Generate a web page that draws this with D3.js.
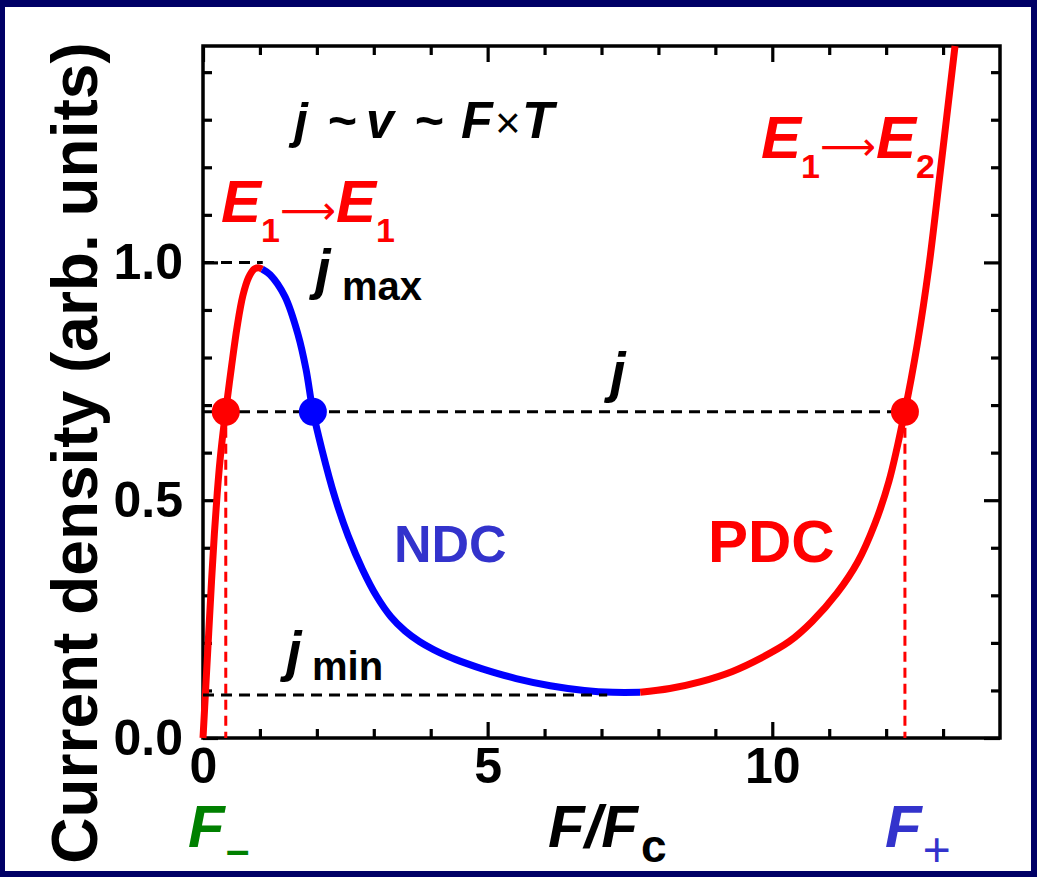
<!DOCTYPE html>
<html><head><meta charset="utf-8">
<script src="https://cdn.jsdelivr.net/npm/d3@7"></script>
<style>html,body{margin:0;padding:0;background:#000066;}svg{display:block;}</style>
</head><body>
<svg id="chart" width="1037" height="877"></svg>
<script>
// ---- data ----
const xDomain = [0, 14];
const yDomain = [0, 1.455];
const xMajorTicks = [0, 5, 10];
const xMinorTicks = [1, 2, 3, 4, 6, 7, 8, 9, 11, 12, 13];
const yMajorTicks = [0, 0.5, 1.0];
const yMinorTicks = [0.1, 0.2, 0.3, 0.4, 0.6, 0.7, 0.8, 0.9, 1.1, 1.2, 1.3, 1.4];

// ohmic branch (red, E1->E1)
const ohmicF = [0, 0.05, 0.10, 0.15, 0.20, 0.25, 0.30, 0.35, 0.40, 0.50, 0.60, 0.70, 0.80, 0.90, 0.97, 1.04];
const ohmicJ = [0, 0.11, 0.22, 0.33, 0.43, 0.515, 0.585, 0.64, 0.688, 0.78, 0.865, 0.93, 0.968, 0.986, 0.989, 0.986];
// NDC branch (blue)
const ndcF = [1.04, 1.18, 1.44, 1.67, 1.81, 1.93, 2.09, 2.32, 2.55, 2.8, 3.05, 3.3, 3.55, 3.8, 4.05, 4.3, 4.6, 4.92, 5.5, 6.1, 6.7, 7.2, 7.68];
const ndcJ = [0.986, 0.974, 0.928, 0.848, 0.775, 0.688, 0.606, 0.505, 0.425, 0.355, 0.298, 0.255, 0.225, 0.203, 0.186, 0.172, 0.158, 0.145, 0.125, 0.11, 0.10, 0.096, 0.096];
// PDC branch (red, E1->E2)
const pdcF = [7.68, 8.2, 8.73, 9.3, 9.8, 10.3, 10.7, 11.14, 11.5, 11.8, 12.05, 12.33, 12.55, 12.75, 12.95, 13.21];
const pdcJ = [0.096, 0.104, 0.118, 0.14, 0.168, 0.203, 0.245, 0.305, 0.37, 0.45, 0.54, 0.688, 0.83, 0.99, 1.19, 1.455];

// operating points at current j
const jLevel = 0.686;
const pointF = [0.40, 1.93, 12.33];
const pointColor = ["#ff0000", "#0000ff", "#ff0000"];
const jMax = 1.0, jMaxEndF = 1.05;
const jMin = 0.0905, jMinEndF = 7.1;

// ---- drawing ----
const W = 1037, H = 877;
const svg = d3.select("#chart");
const FONT = "'Liberation Sans', Arial, Helvetica, sans-serif";
svg.append("rect").attr("x", 0).attr("y", 0).attr("width", W).attr("height", H).attr("fill", "#000066");
svg.append("rect").attr("x", 5).attr("y", 7).attr("width", W - 11).attr("height", H - 13).attr("fill", "#ffffff");

const pLeft = 203, pRight = 1000, pTop = 46, pBottom = 738;
const x = d3.scaleLinear().domain(xDomain).range([pLeft, pRight]);
const y = d3.scaleLinear().domain(yDomain).range([pBottom, pTop]);

const axes = svg.append("g");
function styleAxis(g) {
  g.select(".domain").remove();
  g.selectAll(".tick line").attr("stroke", "#000").attr("stroke-width", 3.2);
  g.selectAll("text").attr("font-family", FONT).attr("font-weight", "bold").attr("font-size", 50).attr("fill", "#000");
}
// bottom
axes.append("g").attr("transform", `translate(0,${pBottom})`)
  .call(d3.axisBottom(x).tickValues(xMajorTicks).tickSize(-16).tickPadding(9).tickFormat(d3.format("d"))).call(styleAxis);
axes.append("g").attr("transform", `translate(0,${pBottom})`)
  .call(d3.axisBottom(x).tickValues(xMinorTicks).tickSize(-9).tickFormat("")).call(styleAxis);
// top
axes.append("g").attr("transform", `translate(0,${pTop})`)
  .call(d3.axisTop(x).tickValues(xMajorTicks).tickSize(-16).tickFormat("")).call(styleAxis);
axes.append("g").attr("transform", `translate(0,${pTop})`)
  .call(d3.axisTop(x).tickValues(xMinorTicks).tickSize(-9).tickFormat("")).call(styleAxis);
// left
axes.append("g").attr("transform", `translate(${pLeft},0)`)
  .call(d3.axisLeft(y).tickValues(yMajorTicks).tickSize(-15).tickPadding(20).tickFormat(d3.format(".1f"))).call(styleAxis);
axes.append("g").attr("transform", `translate(${pLeft},0)`)
  .call(d3.axisLeft(y).tickValues(yMinorTicks).tickSize(-9).tickFormat("")).call(styleAxis);
// right
axes.append("g").attr("transform", `translate(${pRight},0)`)
  .call(d3.axisRight(y).tickValues(yMajorTicks).tickSize(-16).tickFormat("")).call(styleAxis);
axes.append("g").attr("transform", `translate(${pRight},0)`)
  .call(d3.axisRight(y).tickValues(yMinorTicks).tickSize(-9).tickFormat("")).call(styleAxis);
// frame
svg.append("rect").attr("x", pLeft).attr("y", pTop).attr("width", pRight - pLeft).attr("height", pBottom - pTop)
  .attr("fill", "none").attr("stroke", "#000").attr("stroke-width", 3.5);

// dashed guides (behind curve)
const dash = "11,7";
svg.append("line").attr("x1", x(0)).attr("x2", x(jMaxEndF)).attr("y1", y(jMax)).attr("y2", y(jMax))
  .attr("stroke", "#000").attr("stroke-width", 3).attr("stroke-dasharray", dash);
svg.append("line").attr("x1", x(0)).attr("x2", x(pointF[2])).attr("y1", y(jLevel)).attr("y2", y(jLevel))
  .attr("stroke", "#000").attr("stroke-width", 3).attr("stroke-dasharray", dash);
[pointF[0], pointF[2]].forEach(f => {
  svg.append("line").attr("x1", x(f)).attr("x2", x(f)).attr("y1", y(jLevel)).attr("y2", y(0))
    .attr("stroke", "#ff0000").attr("stroke-width", 3).attr("stroke-dasharray", "10,6");
});

// curve
const line = d3.line().x(d => x(d[0])).y(d => y(d[1])).curve(d3.curveCatmullRom.alpha(0.5));
const segs = [[ohmicF, ohmicJ, "#ff0000"], [ndcF, ndcJ, "#0000ff"], [pdcF, pdcJ, "#ff0000"]];
segs.forEach(([F, J, c]) => {
  svg.append("path").datum(F.map((f, i) => [f, J[i]])).attr("d", line)
    .attr("fill", "none").attr("stroke", c).attr("stroke-width", 7);
});

// jmin dashed (over curve)
svg.append("line").attr("x1", x(0)).attr("x2", x(jMinEndF)).attr("y1", y(jMin)).attr("y2", y(jMin))
  .attr("stroke", "#000").attr("stroke-width", 3).attr("stroke-dasharray", dash);

// points
svg.selectAll("circle.pt").data(pointF).join("circle").attr("class", "pt")
  .attr("cx", d => x(d)).attr("cy", y(jLevel)).attr("r", 14).attr("fill", (d, i) => pointColor[i]);

// ---- text ----
// a label made of pieces: one <text>, one <tspan> per piece
function label(parts, fill) {
  const t = svg.append("text").attr("font-family", FONT).attr("fill", fill || "#000");
  parts.forEach(p => {
    t.append("tspan").attr("x", p.x).attr("y", p.y).attr("font-size", p.size)
      .attr("font-weight", p.weight || "bold").attr("font-style", p.italic ? "italic" : "normal")
      .attr("font-family", p.family || null)
      .text(p.t);
  });
  return t;
}
// pieces laid side by side, each starting where the previous one ends
function flowLabel(x0, parts, fill) {
  const t = svg.append("text").attr("font-family", FONT).attr("fill", fill || "#000");
  let cx = x0;
  parts.forEach(p => {
    const s = t.append("tspan").attr("x", cx).attr("y", p.y).attr("font-size", p.size)
      .attr("font-weight", p.weight || "bold").attr("font-style", p.italic ? "italic" : "normal")
      .attr("font-family", p.family || null).text(p.t);
    cx += s.node().getComputedTextLength() + (p.gap || 0);
  });
  return t;
}
// y-axis title
svg.append("text").attr("font-family", FONT).attr("font-weight", "bold").attr("font-size", 64)
  .attr("text-anchor", "middle").attr("transform", "translate(97,453) rotate(-90)")
  .text("Current density (arb. units)");
// x-axis title F/Fc
label([{t: "F/F", x: 548, y: 847, size: 60, italic: true}, {t: "c", x: 641, y: 862, size: 46}]);
// F- and F+
label([{t: "F", x: 188, y: 847, size: 60, italic: true}, {t: "\u2013", x: 226, y: 864, size: 42}], "#008000");
label([{t: "F", x: 885, y: 847, size: 60, italic: true}, {t: "+", x: 922, y: 866, size: 48, italic: true, weight: "normal"}], "#3333cc");

// j ~ v ~ F x T
label([
  {t: "j", x: 294, y: 138, size: 50, italic: true},
  {t: "~", x: 327, y: 138, size: 50, italic: true},
  {t: "v", x: 366, y: 138, size: 50, italic: true},
  {t: "~", x: 414, y: 138, size: 50, italic: true},
  {t: "F", x: 461, y: 138, size: 52, italic: true},
  {t: "\u00d7", x: 495, y: 138, size: 44, weight: "normal"},
  {t: "T", x: 522, y: 138, size: 52, italic: true}
]);

// E1 -> E1, E1 -> E2
function transition(x0, base, sub2) {
  flowLabel(x0, [
    {t: "E", y: base, size: 60, italic: true},
    {t: "1", y: base + 20, size: 34},
    {t: "\u27f6", y: base + 2, size: 39, weight: "normal", family: "'DejaVu Sans', sans-serif"},
    {t: "E", y: base, size: 60, italic: true},
    {t: sub2, y: base + 20, size: 34}
  ], "#ff0000");
}
transition(221, 222, "1");
transition(761, 158, "2");

// j_max, j, j_min
label([{t: "j", x: 315, y: 288, size: 56, italic: true}, {t: "max", x: 342, y: 300, size: 40}]);
label([{t: "j", x: 610, y: 391, size: 56, italic: true}]);
label([{t: "j", x: 286, y: 670, size: 56, italic: true}, {t: "min", x: 312, y: 680, size: 40}]);

// NDC / PDC
label([{t: "NDC", x: 394, y: 562, size: 52}], "#3333cc");
label([{t: "PDC", x: 708, y: 562, size: 60}], "#ff0000");
</script>
</body></html>
